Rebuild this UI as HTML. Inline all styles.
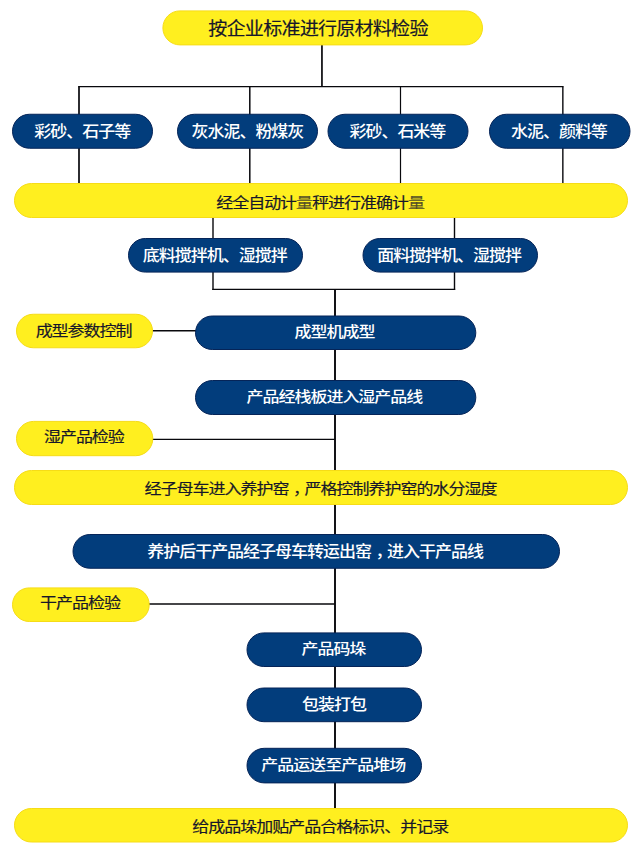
<!DOCTYPE html>
<html lang="zh-CN"><head><meta charset="utf-8"><title>生产工艺流程</title>
<style>
html,body{margin:0;padding:0;background:#fff;}
body{width:640px;height:849px;overflow:hidden;}
svg{display:block;}
text{font-family:"Liberation Sans","Noto Sans CJK SC",sans-serif;font-weight:400;text-anchor:middle;}
.ty{fill:#17172a;stroke:#17172a;stroke-width:0.2;}
.tb{fill:#ffffff;font-weight:500;}
.py{fill:#FFEF1F;stroke:#F6DC17;stroke-width:1;}
.pb{fill:#023D7C;stroke:#052458;stroke-width:1;}
line{stroke:#08080c;}
</style></head><body>
<svg width="640" height="849" viewBox="0 0 640 849">
<rect x="0" y="0" width="640" height="849" fill="#ffffff"/>
<g>
<line x1="321.95" y1="44" x2="321.95" y2="86.62" stroke-width="1.7"/>
<line x1="78.15" y1="86.62" x2="563.55" y2="86.62" stroke-width="1.25"/>
<line x1="79" y1="86.62" x2="79" y2="184" stroke-width="1.7"/>
<line x1="249.8" y1="86.62" x2="249.8" y2="184" stroke-width="1.5"/>
<line x1="400.5" y1="86.62" x2="400.5" y2="184" stroke-width="1.2"/>
<line x1="562.85" y1="86.62" x2="562.85" y2="184" stroke-width="1.4"/>
<line x1="213" y1="217" x2="213" y2="289.9" stroke-width="1.4"/>
<line x1="454.5" y1="217" x2="454.5" y2="289.9" stroke-width="1.4"/>
<line x1="212.3" y1="289.3" x2="455.2" y2="289.3" stroke-width="1.35"/>
<line x1="335" y1="289" x2="335" y2="809" stroke-width="1.9"/>
<line x1="152" y1="330.75" x2="196" y2="330.75" stroke-width="1.3"/>
<line x1="152" y1="439.4" x2="334.9" y2="439.4" stroke-width="1.25"/>
<line x1="148" y1="604" x2="334.9" y2="604" stroke-width="1.5"/>
</g>
<g>
<rect class="py" x="162.9" y="10.9" width="319.6" height="34" rx="17" ry="17"/>
<rect class="pb" x="12.5" y="114.25" width="140" height="34" rx="17" ry="17"/>
<rect class="pb" x="177.5" y="114.25" width="140" height="34" rx="17" ry="17"/>
<rect class="pb" x="328" y="114.25" width="140" height="34" rx="17" ry="17"/>
<rect class="pb" x="489.5" y="114.25" width="140.5" height="34" rx="17" ry="17"/>
<rect class="py" x="14.5" y="183.5" width="613" height="34" rx="17" ry="17"/>
<rect class="pb" x="128.5" y="238.5" width="174" height="33.6" rx="16.8" ry="16.8"/>
<rect class="pb" x="363" y="238.5" width="174.5" height="33.6" rx="16.8" ry="16.8"/>
<rect class="py" x="16.5" y="314.25" width="136" height="33.5" rx="16.75" ry="16.75"/>
<rect class="pb" x="195.5" y="316" width="280.3" height="33.5" rx="16.75" ry="16.75"/>
<rect class="pb" x="195.5" y="380.5" width="280.3" height="34" rx="17" ry="17"/>
<rect class="py" x="16.5" y="421.4" width="136.3" height="34.3" rx="17.15" ry="17.15"/>
<rect class="py" x="14.5" y="470.5" width="613" height="34" rx="17" ry="17"/>
<rect class="pb" x="73" y="534.5" width="486.5" height="33.75" rx="16.875" ry="16.875"/>
<rect class="py" x="12.5" y="587.9" width="136.7" height="33.6" rx="16.8" ry="16.8"/>
<rect class="pb" x="247" y="632.9" width="174.5" height="33.6" rx="16.8" ry="16.8"/>
<rect class="pb" x="247" y="688" width="174.5" height="33.7" rx="16.85" ry="16.85"/>
<rect class="pb" x="247" y="748.3" width="174.5" height="34.6" rx="17.3" ry="17.3"/>
<rect class="py" x="14.5" y="808.5" width="613" height="33.5" rx="16.75" ry="16.75"/>
</g>
<g>
<text class="ty" x="318" y="6.5895" font-size="19.1" letter-spacing="-0.8" transform="translate(0 28.9) scale(1 0.94)">按企业标准进行原材料检验</text>
<text class="tb" x="82.25" y="5.865" font-size="17" letter-spacing="-1" transform="translate(0 131) scale(1 0.94)">彩砂、石子等</text>
<text class="tb" x="247.4" y="5.865" font-size="17" letter-spacing="-1" transform="translate(0 131) scale(1 0.94)">灰水泥、粉煤灰</text>
<text class="tb" x="397.4" y="5.865" font-size="17" letter-spacing="-1" transform="translate(0 131) scale(1 0.94)">彩砂、石米等</text>
<text class="tb" x="558.9" y="5.865" font-size="17" letter-spacing="-1" transform="translate(0 131) scale(1 0.94)">水泥、颜料等</text>
<text class="ty" x="320.1" y="5.865" font-size="17" letter-spacing="-1" transform="translate(0 202.8) scale(1 0.87)">经全自动计量秤进行准确计量</text>
<text class="tb" x="214.75" y="5.865" font-size="17" letter-spacing="-1" transform="translate(0 255) scale(1 0.94)">底料搅拌机、湿搅拌</text>
<text class="tb" x="449.1" y="5.865" font-size="17" letter-spacing="-1" transform="translate(0 255) scale(1 0.94)">面料搅拌机、湿搅拌</text>
<text class="ty" x="83.6" y="5.865" font-size="17" letter-spacing="-1" transform="translate(0 331) scale(1 0.87)">成型参数控制</text>
<text class="tb" x="334.5" y="5.865" font-size="17" letter-spacing="-1" transform="translate(0 331.7) scale(1 0.85)">成型机成型</text>
<text class="tb" x="334.4" y="5.865" font-size="17" letter-spacing="-1" transform="translate(0 396.6) scale(1 0.85)">产品经栈板进入湿产品线</text>
<text class="ty" x="83.9" y="5.865" font-size="17" letter-spacing="-1" transform="translate(0 437.5) scale(1 0.85)">湿产品检验</text>
<text class="ty" x="320.5" y="5.865" dx="0 0 0 0 0 0 0 0 0 4.5 -4.5" font-size="17" letter-spacing="-1" transform="translate(0 489.2) scale(1 0.87)">经子母车进入养护窑，严格控制养护窑的水分湿度</text>
<text class="tb" x="315.05" y="5.865" dx="0 0 0 0 0 0 0 0 0 0 0 0 0 0 4.5 -4.5" font-size="17" letter-spacing="-1" transform="translate(0 551.5) scale(1 0.94)">养护后干产品经子母车转运出窑，进入干产品线</text>
<text class="ty" x="80" y="5.865" font-size="17" letter-spacing="-1" transform="translate(0 603.5) scale(1 0.85)">干产品检验</text>
<text class="tb" x="333.6" y="5.865" font-size="17" letter-spacing="-1" transform="translate(0 648.6) scale(1 0.85)">产品码垛</text>
<text class="tb" x="333.9" y="5.865" font-size="17" letter-spacing="-1" transform="translate(0 705) scale(1 0.92)">包装打包</text>
<text class="tb" x="333.25" y="5.865" font-size="17" letter-spacing="-1" transform="translate(0 765.3) scale(1 0.86)">产品运送至产品堆场</text>
<text class="ty" x="320.25" y="5.865" font-size="17" letter-spacing="-1" transform="translate(0 826.7) scale(1 0.87)">给成品垛加贴产品合格标识、并记录</text>
</g>
<g fill="#FFEF1F" opacity="0.26"><rect x="296.5" y="193" width="16.5" height="18.5"/><rect x="408.5" y="193" width="16.5" height="18.5"/></g>
</svg>
</body></html>
